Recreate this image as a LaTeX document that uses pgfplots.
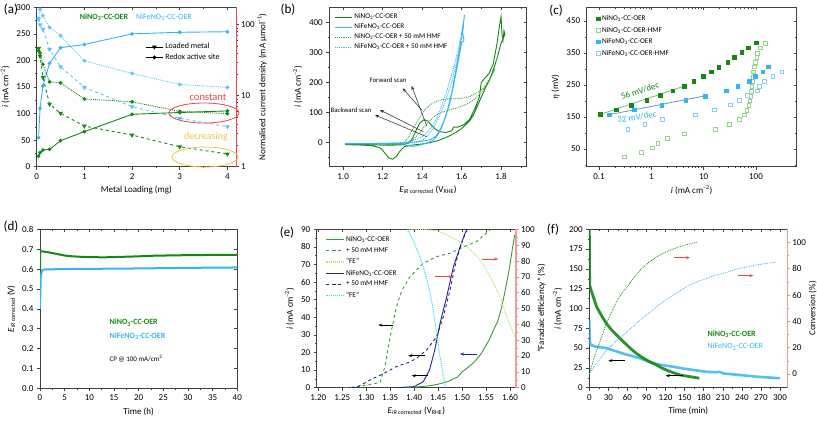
\documentclass[border=0pt]{standalone}
\usepackage{pgfplots}
\pgfplotsset{compat=1.18}
\usepackage{fontspec}
\setmainfont{Carlito}
\usetikzlibrary{arrows.meta}
\definecolor{dgreen}{RGB}{20,135,20}
\definecolor{sky}{RGB}{55,180,240}
\definecolor{lgreen}{RGB}{150,210,140}
\definecolor{lsky}{RGB}{140,205,245}
\definecolor{navy}{RGB}{35,35,140}
\definecolor{cyanfe}{RGB}{60,225,240}
\definecolor{fegreen}{RGB}{195,230,120}
\definecolor{myred}{RGB}{235,70,70}
\definecolor{myyellow}{RGB}{230,200,70}
\definecolor{fitgreen}{RGB}{120,190,100}
\definecolor{fitblue}{RGB}{100,150,190}
\pgfplotsset{
  panel/.style={
    scale only axis,
    anchor=south west,
    /pgf/number format/assume math mode=true,
    tick label style={font=\fontsize{9}{10}\selectfont},
    label style={font=\fontsize{9}{10}\selectfont},
    tick align=outside,
    xtick pos=bottom, ytick pos=left,
    major tick length=3pt, minor tick length=1.5pt,
    axis line style={draw=black!75, line width=0.6pt},
    every tick/.style={black!75, line width=0.5pt},
    legend style={draw=none, fill=none, font=\fontsize{7.5}{8.5}\selectfont, row sep=-0.5pt},
    legend cell align=left,
  },
  right/.style={
    axis y line*=right, axis x line=none, ytick pos=right,
    yticklabel style={xshift=-1.5pt}, ylabel shift=-4pt,
  },
  mirror/.style={
    panel, xtick pos=top, ytick pos=right,
    tick align=inside, xlabel={}, ylabel={},
  },
}
\begin{document}
\begin{tikzpicture}
\path[use as bounding box] (0,0) rectangle (817pt,421pt);

%%%%%%%%%%%%%%%% (a)
\begin{axis}[mirror, at={(36.7pt,254.3pt)}, width=199.3pt, height=159.4pt,
  xmin=0, xmax=4.18, ymin=0, ymax=300,
  xtick={0,1,2,3,4}, minor xtick={0.5,1.5,2.5,3.5}, ytick=\empty,
  xticklabels={}]
\end{axis}
\begin{axis}[panel, at={(36.7pt,254.3pt)}, width=199.3pt, height=159.4pt,
  xmin=0, xmax=4.18, ymin=0, ymax=300,
  xtick={0,1,2,3,4}, minor xtick={0.5,1.5,2.5,3.5},
  ytick={0,50,100,150,200,250,300}, minor ytick={25,75,125,175,225,275},
  xlabel={Metal Loading (mg)}, ylabel={\textit{i} (mA cm\textsuperscript{–2})},
  legend style={at={(0.53,0.80)}, anchor=north west, font=\fontsize{8}{9}\selectfont}]
\addplot[dgreen, line width=0.9pt, mark=*, mark size=1.4pt, forget plot] coordinates {
 (0.04,20) (0.07,26.4) (0.13,31.4) (0.27,32.7) (0.5,49) (1,66) (2,98.6) (3,102) (4,105)};
\addplot[sky, line width=0.9pt, mark=*, mark size=1.4pt, forget plot] coordinates {
 (0.04,54.6) (0.07,110) (0.13,152) (0.27,194.6) (0.5,224) (1,230) (2,250) (3,253) (4,254)};
\addlegendimage{black, line width=0.7pt, mark=triangle*, mark size=2pt, mark options={solid, rotate=180}}
\addlegendentry{Loaded metal}
\addlegendimage{black, line width=0.7pt, mark=*, mark size=1.6pt}
\addlegendentry{Redox active site}
\end{axis}
\begin{axis}[panel, right, at={(36.7pt,254.3pt)}, width=199.3pt, height=159.4pt,
  xmin=0, xmax=4.18, ymode=log, ymin=1, ymax=176,
  ytick={1,10,100}, yticklabels={1,10,100},
  y axis line style={draw=myred, line width=0.6pt},
  ylabel={Normalised current density (mA µmol\textsuperscript{–1})}]
\addplot[dgreen, line width=0.9pt, densely dotted, mark=*, mark size=1.4pt, mark options={solid}] coordinates {
 (0.04,43) (0.07,40) (0.13,27.7) (0.27,15.7) (0.5,15.2) (1,9.0) (2,8.2) (3,6.0) (4,5.6)};
\addplot[dgreen, line width=0.9pt, dashed, mark=triangle*, mark size=1.9pt, mark options={solid, rotate=180}] coordinates {
 (0.04,46.5) (0.07,36) (0.13,18.2) (0.27,7.6) (0.5,5.65) (1,3.74) (2,2.79) (3,1.91) (4,1.51)};
\addplot[sky!80, line width=0.9pt, densely dotted, mark=*, mark size=1.4pt, mark options={solid}] coordinates {
 (0.04,123) (0.07,165) (0.13,134) (0.27,91.7) (0.5,70) (1,31) (2,20.6) (3,14.4) (4,13.1)};
\addplot[sky!80, line width=0.9pt, dashed, mark=triangle*, mark size=1.9pt, mark options={solid, rotate=180}] coordinates {
 (0.04,120) (0.07,100) (0.13,86) (0.27,45) (0.5,25.6) (1,13.1) (2,7.0) (3,4.8) (4,3.66)};
\end{axis}

%%%%%%%%%%%%%%%% (b)
\begin{axis}[mirror, at={(329.3pt,254.3pt)}, width=197.4pt, height=159.4pt,
  xmin=0.93, xmax=1.93, ymin=-82, ymax=450,
  xtick={1.0,1.2,1.4,1.6,1.8}, minor xtick={1.1,1.3,1.5,1.7,1.9},
  ytick={0,100,200,300,400}, minor ytick={-50,50,150,250,350},
  xticklabels={}, yticklabels={}]
\end{axis}
\begin{axis}[panel, at={(329.3pt,254.3pt)}, width=197.4pt, height=159.4pt,
  xmin=0.93, xmax=1.93, ymin=-82, ymax=450,
  xtick={1.0,1.2,1.4,1.6,1.8}, minor xtick={1.1,1.3,1.5,1.7,1.9},
  ytick={0,100,200,300,400}, minor ytick={-50,50,150,250,350},
  xticklabel style={/pgf/number format/.cd, fixed, fixed zerofill, precision=1},
  xlabel={\textit{E}\textsubscript{\textit{iR} corrected} (V\textsubscript{RHE})},
  ylabel={\textit{i} (mA cm\textsuperscript{–2})},
  legend style={at={(0.01,0.985)}, anchor=north west, font=\fontsize{7.2}{8.5}\selectfont}]
\addplot[dgreen, line width=0.9pt] coordinates {
 (1.01,-8) (1.05,-8) (1.10,-8) (1.15,-9) (1.20,-10) (1.25,-10) (1.30,-9) (1.33,-4) (1.35,10) (1.37,40) (1.39,65) (1.41,75) (1.43,70) (1.45,55) (1.47,42) (1.49,35) (1.52,32) (1.55,38) (1.56,50) (1.58,50) (1.61,58) (1.64,75) (1.67,115) (1.69,150) (1.70,200) (1.72,215) (1.74,230) (1.76,260) (1.78,330) (1.79,380) (1.80,420) (1.805,360) (1.81,340) (1.815,372) (1.82,360)
 (1.80,330) (1.78,280) (1.76,240) (1.74,205) (1.72,180) (1.70,150) (1.68,120) (1.66,90) (1.64,70) (1.60,45) (1.56,28) (1.52,15) (1.48,5) (1.44,-2) (1.40,-6) (1.35,-10) (1.31,-15) (1.29,-28) (1.27,-48) (1.25,-57) (1.23,-52) (1.21,-35) (1.19,-20) (1.15,-12) (1.10,-10) (1.05,-9) (1.01,-8)};
\addlegendentry{NiNO\textsubscript{3}-CC-OER}
\addplot[sky, line width=0.9pt] coordinates {
 (1.01,-5) (1.1,-5) (1.2,-4) (1.3,-3) (1.35,0) (1.40,3) (1.44,8) (1.47,20) (1.49,40) (1.51,70) (1.53,110) (1.55,165) (1.57,235) (1.59,310) (1.60,360) (1.61,400) (1.615,425) (1.605,370) (1.612,340)
 (1.60,330) (1.58,260) (1.56,190) (1.54,130) (1.52,85) (1.50,50) (1.48,25) (1.46,8) (1.43,-2) (1.40,-8) (1.36,-14) (1.33,-12) (1.3,-8) (1.2,-6) (1.1,-6) (1.01,-6)};
\addlegendentry{NiFeNO\textsubscript{3}-CC-OER}
\addplot[dgreen!80!white, line width=0.9pt, densely dotted] coordinates {
 (1.01,-5) (1.1,-5) (1.2,-6) (1.28,-7) (1.31,0) (1.33,15) (1.35,40) (1.38,75) (1.41,105) (1.44,125) (1.47,135) (1.50,142) (1.55,145) (1.60,146) (1.64,152) (1.68,165) (1.71,180) (1.74,210) (1.77,245)
 (1.74,205) (1.70,165) (1.66,140) (1.62,125) (1.58,115) (1.54,108) (1.50,100) (1.47,90) (1.44,72) (1.41,50) (1.38,25) (1.35,5) (1.32,-5) (1.28,-8) (1.2,-7) (1.1,-6) (1.01,-5)};
\addlegendentry{NiNO\textsubscript{3}-CC-OER + 50 mM HMF}
\addplot[sky, line width=0.9pt, densely dotted] coordinates {
 (1.01,-4) (1.2,-4) (1.3,-2) (1.35,5) (1.40,18) (1.43,35) (1.46,62) (1.49,105) (1.52,160) (1.55,225) (1.58,300) (1.60,360) (1.61,390)
 (1.60,340) (1.58,280) (1.55,200) (1.52,140) (1.49,90) (1.46,50) (1.43,22) (1.40,5) (1.36,-3) (1.3,-5) (1.2,-5) (1.01,-5)};
\addlegendentry{NiFeNO\textsubscript{3}-CC-OER + 50 mM HMF}
\end{axis}

%%%%%%%%%%%%%%%% (c)
\begin{axis}[mirror, at={(586.7pt,254.3pt)}, width=210pt, height=159.4pt,
  xmode=log, xmin=0.058, xmax=600, ymin=-5, ymax=492,
  xtick={0.1,1,10,100}, ytick={50,150,250,350,450}, minor ytick={0,100,200,300,400},
  xticklabels={}, yticklabels={}]
\end{axis}
\begin{axis}[panel, at={(586.7pt,254.3pt)}, width=210pt, height=159.4pt,
  xmode=log, xmin=0.058, xmax=600, ymin=-5, ymax=492,
  xtick={0.1,1,10,100}, xticklabels={0.1,1,10,100},
  ytick={50,150,250,350,450}, minor ytick={0,100,200,300,400},
  xlabel={\textit{i} (mA cm\textsuperscript{–2})},
  ylabel={\textit{η} (mV)},
  legend style={at={(0.03,0.975)}, anchor=north west, font=\fontsize{7.3}{8.5}\selectfont, row sep=1pt},
  legend image code/.code={\draw[mark repeat=2,mark phase=2] plot coordinates {(0cm,0cm) (0.3cm,0cm) (0.6cm,0cm)};}]
\addplot[only marks, mark=square*, mark size=1.9pt, dgreen] coordinates {
 (0.105,158) (0.211,172.6) (0.415,187) (0.815,202.7) (1.47,217) (2.56,232) (4.2,246) (6.44,262) (9.7,276.5) (14.0,291) (19.4,305.6) (28.8,321) (38,335.7) (53.2,351) (70.3,366) (100,381.4)};
\addlegendentry{NiNO\textsubscript{3}-CC-OER}
\addplot[only marks, mark=square, mark size=1.9pt, lgreen] coordinates {
 (0.30,26) (0.635,39.6) (1.03,54) (1.32,67.6) (1.99,83) (4.2,97.8) (16.5,112.4) (30.9,128) (47.3,142.6) (59,157) (66.4,171) (72.4,187) (76,201) (79.2,215) (81,231) (82.8,246) (85,261) (86.5,275) (89,291) (91.6,307) (98,321) (103,336) (106,350) (119,366) (148.6,381)};
\addlegendentry{NiNO\textsubscript{3}-CC-OER-HMF}
\addplot[only marks, mark=square*, mark size=1.9pt, sky] coordinates {
 (0.155,157) (0.473,172.6) (1.57,187) (4.53,202.7) (10.6,216) (26.7,232) (44.7,247) (73.5,262) (95.5,276.7) (134,291) (170,307)};
\addlegendentry{NiFeNO\textsubscript{3}-CC-OER}
\addplot[only marks, mark=square, mark size=1.9pt, lsky] coordinates {
 (0.353,112.3) (0.746,128) (1.62,142.5) (6.93,157) (16,172.6) (31.8,188) (48,203) (68,217.5) (106,232) (114,246.5) (142,261) (209,276.7) (309,291)};
\addlegendentry{NiFeNO\textsubscript{3}-CC-OER-HMF}
\addplot[fitgreen, line width=0.8pt, forget plot] coordinates {(0.105,158) (4.2,246)};
\addplot[fitblue, line width=0.8pt, forget plot] coordinates {(0.155,157) (10.6,216)};
\end{axis}

%%%%%%%%%%%%%%%% (d)
\begin{axis}[mirror, at={(40pt,32.7pt)}, width=197.3pt, height=159pt,
  xmin=0, xmax=40, ymin=0, ymax=0.8,
  xtick={0,5,...,40}, minor x tick num=1,
  ytick={0,0.1,0.2,0.3,0.4,0.5,0.6,0.7,0.8},
  xticklabels={}, yticklabels={}]
\end{axis}
\begin{axis}[panel, at={(40pt,32.7pt)}, width=197.3pt, height=159pt,
  xmin=0, xmax=40, ymin=0, ymax=0.8,
  xtick={0,5,...,40}, minor x tick num=1,
  ytick={0,0.1,0.2,0.3,0.4,0.5,0.6,0.7,0.8},
  yticklabel style={/pgf/number format/.cd, fixed, fixed zerofill, precision=1},
  xlabel={Time (h)},
  ylabel={\textit{E}\textsubscript{\textit{iR} corrected} (V)}]
\addplot[dgreen, line width=2pt] coordinates {
 (0,0.60) (0.05,0.69) (0.5,0.689) (1,0.687) (2,0.683) (3,0.678) (4,0.673) (5,0.668) (6,0.665) (8,0.662) (10,0.660) (13,0.659) (16,0.661) (20,0.664) (23,0.667) (25,0.668) (30,0.670) (35,0.671) (40,0.672)};
\addplot[sky, line width=2pt] coordinates {
 (0,0.40) (0.15,0.56) (0.4,0.593) (1,0.598) (5,0.600) (10,0.601) (20,0.603) (30,0.606) (40,0.608)};
\end{axis}

%%%%%%%%%%%%%%%% (e)
\begin{axis}[mirror, at={(316.7pt,33.3pt)}, width=199.3pt, height=158.4pt,
  xmin=1.1967, xmax=1.6125, ymin=0, ymax=90,
  xtick={1.20,1.25,1.30,1.35,1.40,1.45,1.50,1.55,1.60}, ytick=\empty,
  xticklabels={}]
\end{axis}
\begin{axis}[panel, at={(316.7pt,33.3pt)}, width=199.3pt, height=158.4pt,
  xmin=1.1967, xmax=1.6125, ymin=0, ymax=90,
  xtick={1.20,1.25,1.30,1.35,1.40,1.45,1.50,1.55,1.60},
  ytick={0,10,20,30,40,50,60,70,80,90}, minor y tick num=1,
  xticklabel style={/pgf/number format/.cd, fixed, fixed zerofill, precision=2},
  xlabel={\textit{E}\textsubscript{\textit{iR} corrected} (V\textsubscript{RHE})},
  ylabel={\textit{i} (mA cm\textsuperscript{–2})},
  legend style={at={(0.03,0.98)}, anchor=north west, font=\fontsize{7.3}{8.5}\selectfont, row sep=0.6pt}]
\addplot[dgreen!85!white, line width=0.9pt] coordinates {
 (1.38,0) (1.40,0.3) (1.43,1) (1.45,2) (1.47,3.5) (1.49,6) (1.50,9) (1.51,11) (1.525,14.5) (1.539,19) (1.55,24) (1.558,28) (1.566,33) (1.574,37.5) (1.58,43) (1.586,50) (1.594,61) (1.60,70) (1.605,79) (1.61,87)};
\addlegendentry{NiNO\textsubscript{3}-CC-OER}
\addplot[dgreen!85!white, line width=0.9pt, dashed] coordinates {
 (1.255,0) (1.28,0.5) (1.30,1.5) (1.32,2.5) (1.329,3) (1.339,12) (1.35,29) (1.363,46) (1.374,55) (1.391,63) (1.419,70.7) (1.447,74.5) (1.475,76.4) (1.503,80) (1.53,83) (1.55,87.7) (1.56,90)};
\addlegendentry{+ 50 mM HMF}
\addlegendimage{fegreen, line width=1.1pt, densely dotted}
\addlegendentry{``FE''}
\addplot[navy, line width=0.9pt] coordinates {
 (1.363,0) (1.40,0.6) (1.419,3.4) (1.432,10) (1.443,21.4) (1.454,36.6) (1.468,51.7) (1.482,68.8) (1.496,80) (1.506,87.7) (1.511,90)};
\addlegendentry{NiFeNO\textsubscript{3}-CC-OER}
\addplot[navy, line width=0.9pt, dashed] coordinates {
 (1.27,0) (1.283,0.6) (1.308,4.4) (1.336,8) (1.363,12) (1.39,14.5) (1.405,16.7) (1.426,21.4) (1.447,29) (1.461,40.4) (1.475,55.5) (1.485,68.8) (1.496,80) (1.51,90)};
\addlegendentry{+ 50 mM HMF}
\addlegendimage{cyanfe, line width=1.1pt, densely dotted}
\addlegendentry{``FE''}
\end{axis}
\begin{axis}[panel, right, at={(316.7pt,33.3pt)}, width=199.3pt, height=158.4pt,
  xmin=1.1967, xmax=1.6125, ymin=0, ymax=100,
  ytick={0,10,20,30,40,50,60,70,80,90,100}, minor y tick num=1,
  y axis line style={draw=myred!55, line width=1.8pt},
  ytick style={myred!70},
  ylabel={``Faradaic efficiency'' (\%)}]
\addplot[fegreen, line width=1.1pt, densely dotted] coordinates {
 (1.39,100) (1.42,100) (1.45,99) (1.468,96.4) (1.49,93) (1.51,89) (1.525,85) (1.537,80.6) (1.55,75) (1.562,68) (1.579,57.5) (1.593,45) (1.61,32)};
\addplot[cyanfe, line width=1.1pt, densely dotted] coordinates {
 (1.386,100) (1.398,93) (1.412,82.7) (1.423,72.2) (1.432,61.7) (1.44,49) (1.447,34) (1.454,19.6) (1.461,7) (1.466,0)};
\end{axis}

%%%%%%%%%%%%%%%% (f)
\begin{axis}[mirror, at={(589.3pt,33.3pt)}, width=198pt, height=158.4pt,
  xmin=0, xmax=311.5, ymin=0, ymax=200,
  xtick={0,30,...,300}, minor x tick num=1, ytick=\empty,
  xticklabels={}]
\end{axis}
\begin{axis}[panel, at={(589.3pt,33.3pt)}, width=198pt, height=158.4pt,
  xmin=0, xmax=311.5, ymin=0, ymax=200,
  xtick={0,30,...,300}, minor x tick num=1,
  ytick={0,25,...,200}, minor y tick num=1,
  xlabel={Time (min)},
  ylabel={\textit{i} (mA cm\textsuperscript{–2})}]
\addplot[sky, line width=2.6pt, opacity=0.85] coordinates {
 (0,85) (0.6,60) (2,54) (10,52) (27,50) (40,46.5) (53.5,43) (67,40) (80,37) (93,33) (106,30) (119,28) (132,26.5) (145,24.5) (158,23) (172,21.5) (185,20) (198,19.5) (205,20) (211,18) (224,17) (237,16) (250,15) (263,14) (280,13) (300,12)};
\addplot[dgreen, line width=2.8pt, opacity=0.9] coordinates {
 (0,200) (0.6,130) (2,125) (5,118) (11.5,102) (20,90) (27,81) (35,73) (43,66.5) (51,60) (59,54) (67,48) (74.5,43) (82,39) (90,35) (98,31.5) (106,28.6) (114,25) (122,22) (132,19) (143,16) (158,14) (173,12)};
\end{axis}
\begin{axis}[panel, right, at={(589.3pt,33.3pt)}, width=198pt, height=158.4pt,
  xmin=0, xmax=311.5, ymin=-10.4, ymax=109.9,
  ytick={0,20,40,60,80,100}, minor y tick num=1,
  y axis line style={draw=myred!55, line width=0.9pt},
  ytick style={myred!70},
  ylabel={Conversion (\%)}]
\addplot[dgreen, line width=0.8pt, densely dotted] coordinates {
 (0,0) (5,8) (11.5,18) (20,29) (27,38.5) (35,47) (43,55) (51,61) (59,66) (70,73) (80,79) (93,84.5) (106,89) (120,92.5) (132,95) (150,98) (169,100)};
\addplot[sky, line width=0.8pt, densely dotted] coordinates {
 (0,0) (10,7) (27,18) (40,24) (53.5,29.6) (67,35.5) (80,41) (93,46) (106,51) (119,56) (132,60) (145,64) (158,67.6) (172,70.5) (185,72.7) (198,75) (211,76.5) (224,78.5) (237,80.3) (250,81.5) (263,82.8) (278,84) (292,84.8)};
\end{axis}

%%%%%%%%%%%%%%%% annotations in image pixel coordinates
\begin{scope}[x=1pt, y=-1pt, yshift=421pt]
\tikzset{pl/.style={font=\fontsize{13}{14}\selectfont}}
\node[pl] at (11,10) {(a)};
\node[pl] at (288,10) {(b)};
\node[pl] at (556,11) {(c)};
\node[pl] at (11,227) {(d)};
\node[pl] at (287,233) {(e)};
\node[pl] at (553,230) {(f)};
% (a)
\node[dgreen, font=\bfseries\fontsize{8}{9}\selectfont] at (104,17) {NiNO\textsubscript{3}-CC-OER};
\node[sky, font=\fontsize{8}{9}\selectfont] at (164,17) {NiFeNO\textsubscript{3}-CC-OER};
\node[myred, font=\fontsize{10.5}{11}\selectfont] at (208,97) {constant};
\draw[myred, line width=0.8pt] (204,113) ellipse [x radius=35, y radius=10];
\node[myyellow, font=\fontsize{10}{11}\selectfont] at (206,137) {decreasing};
\draw[myyellow, line width=0.8pt] (205,157) ellipse [x radius=33, y radius=10];
% (b)
\node[font=\fontsize{6.8}{8}\selectfont] at (388,80) {Forward scan};
\node[font=\fontsize{6.8}{8}\selectfont] at (351,110) {Backward scan};
\draw[-{Stealth[length=4pt]}, black!85, line width=0.5pt] (421.7,110) -- (402.7,88.3);
\draw[-{Stealth[length=4pt]}, black!85, line width=0.5pt] (426.7,126) -- (411.7,86);
\draw[-{Stealth[length=4pt]}, black!85, line width=0.5pt] (426.7,136.7) -- (375,115);
\draw[-{Stealth[length=4pt]}, black!85, line width=0.5pt] (423.3,131.7) -- (380,110);
% (c)
\node[dgreen, rotate=18, font=\fontsize{9}{10}\selectfont] at (640,91) {56 mV/dec};
\node[sky, rotate=9, font=\fontsize{9}{10}\selectfont] at (637,117) {32 mV/dec};
% (d)
\node[anchor=west, dgreen, font=\bfseries\fontsize{8}{9}\selectfont] at (106,322.7) {NiNO\textsubscript{3}-CC-OER};
\node[anchor=west, sky, font=\bfseries\fontsize{8}{9}\selectfont] at (106,336) {NiFeNO\textsubscript{3}-CC-OER};
\node[anchor=west, font=\fontsize{7}{8}\selectfont] at (106,358.3) {CP @ 100 mA/cm\textsuperscript{2}};
% (e)
\draw[-{Stealth[length=4pt]}, black, line width=0.7pt] (393.3,325) -- (378.3,325);
\draw[-{Stealth[length=4pt]}, black, line width=0.7pt] (425,355.7) -- (408.3,355.7);
\draw[-{Stealth[length=4pt]}, black, line width=0.7pt] (428.3,375.7) -- (411.7,375.7);
\draw[-{Stealth[length=4pt]}, navy, line width=0.7pt] (476.7,354) -- (460,354);
\draw[-{Stealth[length=4pt]}, myred, line width=0.7pt] (435,276.7) -- (452.7,276.7);
\draw[-{Stealth[length=4pt]}, myred, line width=0.7pt] (481.7,259) -- (498.3,259);
% (f)
\node[anchor=west, dgreen, font=\bfseries\fontsize{8}{9}\selectfont] at (704,334) {NiNO\textsubscript{3}-CC-OER};
\node[anchor=west, sky, font=\fontsize{8}{9}\selectfont] at (704,346.7) {NiFeNO\textsubscript{3}-CC-OER};
\draw[-{Stealth[length=4pt]}, myred, line width=0.7pt] (674.3,257.7) -- (690,257.7);
\draw[-{Stealth[length=4pt]}, myred, line width=0.7pt] (737.7,275.7) -- (753.3,275.7);
\draw[-{Stealth[length=4pt]}, black, line width=0.7pt] (625,360.7) -- (608.3,360.7);
\draw[-{Stealth[length=4pt]}, black, line width=0.7pt] (683.3,375.7) -- (665.7,375.7);
\end{scope}
\end{tikzpicture}
\end{document}
